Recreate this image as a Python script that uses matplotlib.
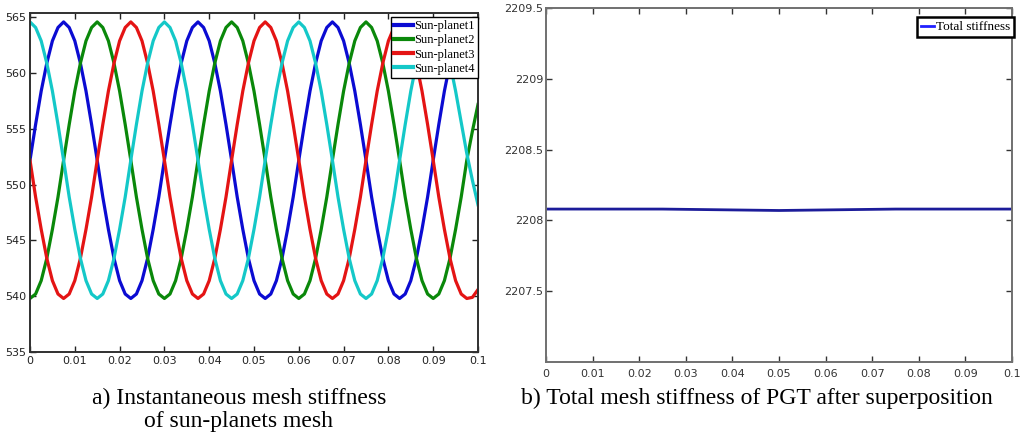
import numpy as np
import matplotlib
matplotlib.use("Agg")
import matplotlib.pyplot as plt

# time samples (s), step 0.00125
t = np.arange(81) * 0.00125

# mesh stiffness
sun_planet1 = [552.2, 555.4, 558.4, 560.9, 562.9, 564.1, 564.6, 564.1, 562.9, 560.9, 558.4, 555.4,
               552.2, 548.9, 546.0, 543.4, 541.4, 540.2, 539.8, 540.2, 541.4, 543.4, 546.0, 548.9,
               552.2, 555.4, 558.4, 560.9, 562.9, 564.1, 564.6, 564.1, 562.9, 560.9, 558.4, 555.4,
               552.2, 548.9, 546.0, 543.4, 541.4, 540.2, 539.8, 540.2, 541.4, 543.4, 546.0, 548.9,
               552.2, 555.4, 558.4, 560.9, 562.9, 564.1, 564.6, 564.1, 562.9, 560.9, 558.4, 555.4,
               552.2, 548.9, 546.0, 543.4, 541.4, 540.2, 539.8, 540.2, 541.4, 543.4, 546.0, 548.9,
               552.2, 555.4, 558.4, 560.9, 562.9, 564.1, 564.6, 564.1, 562.9]
sun_planet2 = [539.8, 540.2, 541.4, 543.4, 546.0, 548.9, 552.2, 555.4, 558.4, 560.9, 562.9, 564.1,
               564.6, 564.1, 562.9, 560.9, 558.4, 555.4, 552.2, 548.9, 546.0, 543.4, 541.4, 540.2,
               539.8, 540.2, 541.4, 543.4, 546.0, 548.9, 552.2, 555.4, 558.4, 560.9, 562.9, 564.1,
               564.6, 564.1, 562.9, 560.9, 558.4, 555.4, 552.2, 548.9, 546.0, 543.4, 541.4, 540.2,
               539.8, 540.2, 541.4, 543.4, 546.0, 548.9, 552.2, 555.4, 558.4, 560.9, 562.9, 564.1,
               564.6, 564.1, 562.9, 560.9, 558.4, 555.4, 552.2, 548.9, 546.0, 543.4, 541.4, 540.2,
               539.8, 540.2, 541.4, 543.4, 546.0, 548.9, 552.2, 554.8, 557.2]
sun_planet3 = [552.2, 548.9, 546.0, 543.4, 541.4, 540.2, 539.8, 540.2, 541.4, 543.4, 546.0, 548.9,
               552.2, 555.4, 558.4, 560.9, 562.9, 564.1, 564.6, 564.1, 562.9, 560.9, 558.4, 555.4,
               552.2, 548.9, 546.0, 543.4, 541.4, 540.2, 539.8, 540.2, 541.4, 543.4, 546.0, 548.9,
               552.2, 555.4, 558.4, 560.9, 562.9, 564.1, 564.6, 564.1, 562.9, 560.9, 558.4, 555.4,
               552.2, 548.9, 546.0, 543.4, 541.4, 540.2, 539.8, 540.2, 541.4, 543.4, 546.0, 548.9,
               552.2, 555.4, 558.4, 560.9, 562.9, 564.1, 564.6, 564.1, 562.9, 560.9, 558.4, 555.4,
               552.2, 548.9, 546.0, 543.4, 541.4, 540.2, 539.8, 539.9, 540.6]
sun_planet4 = [564.6, 564.1, 562.9, 560.9, 558.4, 555.4, 552.2, 548.9, 546.0, 543.4, 541.4, 540.2,
               539.8, 540.2, 541.4, 543.4, 546.0, 548.9, 552.2, 555.4, 558.4, 560.9, 562.9, 564.1,
               564.6, 564.1, 562.9, 560.9, 558.4, 555.4, 552.2, 548.9, 546.0, 543.4, 541.4, 540.2,
               539.8, 540.2, 541.4, 543.4, 546.0, 548.9, 552.2, 555.4, 558.4, 560.9, 562.9, 564.1,
               564.6, 564.1, 562.9, 560.9, 558.4, 555.4, 552.2, 548.9, 546.0, 543.4, 541.4, 540.2,
               539.8, 540.2, 541.4, 543.4, 546.0, 548.9, 552.2, 555.4, 558.4, 560.9, 562.9, 564.1,
               564.6, 564.1, 562.9, 560.9, 558.4, 555.6, 552.8, 550.4, 548.2]
series_names = ["Sun-planet1", "Sun-planet2", "Sun-planet3", "Sun-planet4"]

t_total = [0.0, 0.025, 0.05, 0.075, 0.1]
total_stiffness = [2208.08, 2208.08, 2208.07, 2208.08, 2208.08]

x_ticks = [0, 0.01, 0.02, 0.03, 0.04, 0.05, 0.06, 0.07, 0.08, 0.09, 0.1]
x_ticklabels = ["0", "0.01", "0.02", "0.03", "0.04", "0.05", "0.06", "0.07", "0.08", "0.09", "0.1"]
left_yticks = [535, 540, 545, 550, 555, 560, 565]
right_yticks = [2207.5, 2208, 2208.5, 2209, 2209.5]
right_yticklabels = ["2207.5", "2208", "2208.5", "2209", "2209.5"]

W, H = 1027, 436
fig = plt.figure(figsize=(W / 100, H / 100), dpi=100)

def fig_box(x0, y_top, x1, y_bot):
    return [x0 / W, 1 - y_bot / H, (x1 - x0) / W, (y_bot - y_top) / H]

# ---- left panel
ax1 = fig.add_axes(fig_box(30, 13, 478, 352))
colors = ["#0b0bd2", "#0a880a", "#e41414", "#14c8c8"]
for vals, name, col in zip([sun_planet1, sun_planet2, sun_planet3, sun_planet4],
                           series_names, colors):
    ax1.plot(t, vals, color=col, linewidth=2.3, label=name)
ax1.set_xlim(0, 0.1)
ax1.set_ylim(535, 565.4)
ax1.set_xticks(x_ticks)
ax1.set_xticklabels(x_ticklabels)
ax1.set_yticks(left_yticks)
ax1.tick_params(direction="in", top=True, right=True, length=4, width=1,
                labelsize=8, pad=3, colors="#222222")
for s in ax1.spines.values():
    s.set_color("#303030")
    s.set_linewidth(1.4)
leg1 = ax1.legend(loc="upper right", bbox_to_anchor=(478 / W, 1 - 17 / H),
                  bbox_transform=fig.transFigure, borderaxespad=0,
                  prop={"family": "Liberation Serif", "size": 9},
                  handlelength=1.5, handletextpad=0.1, labelspacing=0.18,
                  borderpad=0.25, fancybox=False, framealpha=1)
leg1.get_frame().set_edgecolor("black")
leg1.get_frame().set_linewidth(1.0)
for ln in leg1.get_lines():
    ln.set_linewidth(3)

# ---- right panel
ax2 = fig.add_axes(fig_box(546, 8, 1012, 362))
ax2.plot(t_total, total_stiffness, color="#1c1c9a", linewidth=2.0,
         label="Total stiffness")
ax2.set_xlim(0, 0.1)
ax2.set_ylim(2207, 2209.5)
ax2.set_xticks(x_ticks)
ax2.set_xticklabels(x_ticklabels)
ax2.set_yticks(right_yticks)
ax2.set_yticklabels(right_yticklabels)
ax2.tick_params(direction="in", top=True, right=True, length=4, width=1,
                labelsize=8, colors="#333333")
ax2.tick_params(axis="x", pad=5)
ax2.tick_params(axis="y", pad=2)
for s in ax2.spines.values():
    s.set_color("#707070")
    s.set_linewidth(1.4)
leg2 = ax2.legend(loc="upper right", bbox_to_anchor=(1014 / W, 1 - 17 / H),
                  bbox_transform=fig.transFigure, borderaxespad=0,
                  prop={"family": "Liberation Serif", "size": 9.5},
                  handlelength=1.0, handletextpad=0.1, borderpad=0.3,
                  fancybox=False, framealpha=1)
leg2.get_frame().set_edgecolor("black")
leg2.get_frame().set_linewidth(1.8)
leg2.get_lines()[0].set_color("#2020ff")

# ---- captions
fig.text(239 / W, 1 - 410 / H, "a) Instantaneous mesh stiffness\nof sun-planets mesh",
         ha="center", va="center", family="Liberation Serif", fontsize=17,
         linespacing=1.15)
fig.text(757 / W, 1 - 398 / H, "b) Total mesh stiffness of PGT after superposition",
         ha="center", va="center", family="Liberation Serif", fontsize=17)

fig.savefig("out.png", dpi=100)
